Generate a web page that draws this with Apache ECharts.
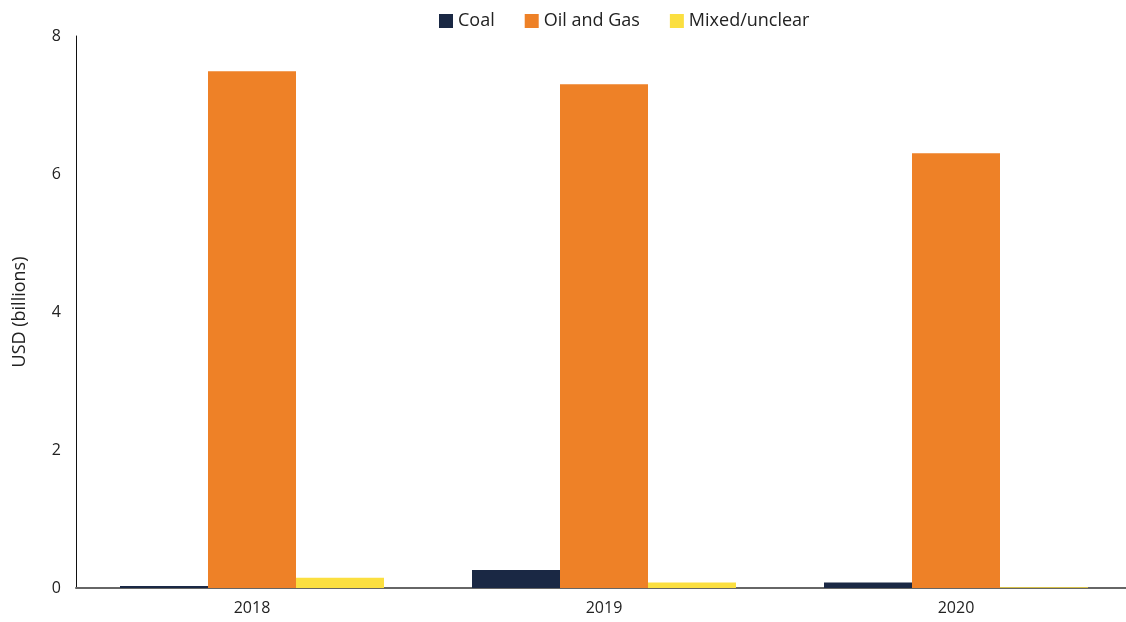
<!DOCTYPE html>
<html><head><meta charset="utf-8">
<script src="https://cdn.jsdelivr.net/npm/echarts@6/dist/echarts.min.js"></script>
<style>html,body{margin:0;padding:0;background:#fff}#c{width:1126px;height:622px}</style>
</head><body><div id="c"></div>
<script>
const years = ['2018', '2019', '2020'];
const coal = [0.03, 0.26, 0.08];
const oilGas = [7.49, 7.30, 6.30];
const mixed = [0.15, 0.08, 0.01];
const yTicks = [0, 2, 4, 6, 8];

const chart = echarts.init(document.getElementById('c'));
const font = "'Open Sans', 'Noto Sans', sans-serif";
chart.setOption({
  animation: false,
  textStyle: { fontFamily: font },
  legend: {
    top: 7, left: 434,
    itemWidth: 14, itemHeight: 14, itemGap: 30,
    icon: 'rect',
    textStyle: { fontSize: 18, color: '#222', fontFamily: font },
    data: ['Coal', 'Oil and Gas', 'Mixed/unclear']
  },
  grid: { left: 76, width: 1056, top: 36, bottom: 34, outerBoundsMode: 'none', containLabel: false },
  xAxis: {
    type: 'category', data: years,
    axisLine: { lineStyle: { color: '#666', width: 2 } },
    axisTick: { show: false },
    axisLabel: { fontSize: 16, color: '#222', margin: 12, fontFamily: font }
  },
  yAxis: {
    type: 'value', min: yTicks[0], max: yTicks[yTicks.length - 1], interval: 2,
    name: 'USD (billions)', nameLocation: 'middle', nameGap: 47,
    nameTextStyle: { fontSize: 18, color: '#222', fontFamily: font },
    axisLine: { show: true, lineStyle: { color: '#111', width: 1 } },
    axisTick: { show: false },
    splitLine: { show: false },
    axisLabel: { fontSize: 16, color: '#222', margin: 15, fontFamily: font }
  },
  series: [
    { name: 'Coal', type: 'bar', data: coal, itemStyle: { color: '#1a2844' }, barWidth: 88, barGap: '0%' },
    { name: 'Oil and Gas', type: 'bar', data: oilGas, itemStyle: { color: '#ee8127' }, barWidth: 88, barGap: '0%' },
    { name: 'Mixed/unclear', type: 'bar', data: mixed, itemStyle: { color: '#fbdf40' }, barWidth: 88, barGap: '0%' }
  ]
});
</script></body></html>
